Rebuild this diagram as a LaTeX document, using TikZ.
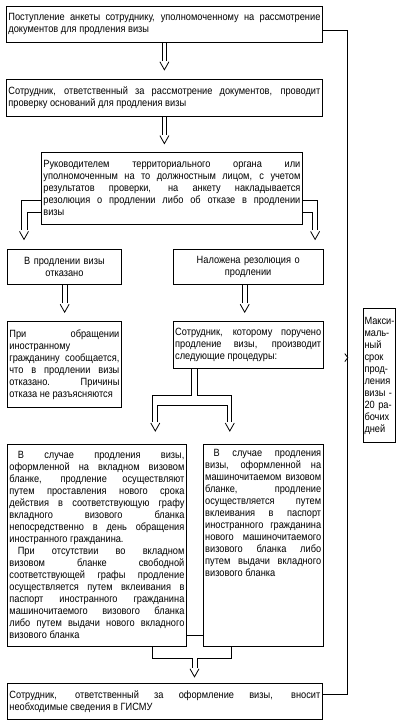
\documentclass[tikz,border=0pt]{standalone}
\usepackage{fontspec}
\setmainfont{Liberation Sans}[FakeStretch=0.88]
\usetikzlibrary{positioning,calc}
\hyphenpenalty=10000
\exhyphenpenalty=10000

\begin{document}
\begin{tikzpicture}[
    font=\fontsize{10.5pt}{12pt}\selectfont,
    box/.style={draw, line width=0.8pt, inner xsep=2pt, inner ysep=2pt, align=justify},
    rail/.style={line width=0.8pt},
    vtip/.pic={\draw[rail] (-4.5pt,0) -- (0,-8pt) -- (4.5pt,0);}
]

% page frame
\useasboundingbox (0,0) rectangle (403pt,-722pt);

% ===== Receipt and check =====
\node[box, anchor=north west, text width=312pt, minimum height=36pt] (receipt) at (6pt,-6pt) {Поступление анкеты сотруднику, уполномоченному на рассмотрение\linebreak документов для продления визы};
\node[box, below=36pt of receipt.south west, anchor=north west, text width=312pt, minimum height=37pt] (check) {Сотрудник, ответственный за рассмотрение документов, проводит\linebreak проверку оснований для продления визы};

% ===== Resolution =====
\node[box, below right=35pt and 35pt of check.south west, text width=257pt, minimum height=72pt] (resolution) {Руководителем территориального органа или\linebreak уполномоченным на то должностным лицом, с учетом\linebreak результатов проверки, на анкету накладывается\linebreak резолюция о продлении либо об отказе в продлении\linebreak визы};

% ===== Two outcomes =====
\node[box, below left=25pt and 34pt of resolution.south west, anchor=north west, text width=110pt, minimum height=35pt, align=center] (refused) {В продлении визы\\отказано};
\node[box, right=51pt of refused.north east, anchor=north west, text width=146pt, minimum height=35pt, align=center] (granted) {Наложена резолюция о\\продлении};

\node[box, below=36pt of refused.south west, anchor=north west, text width=110pt, minimum height=86pt] (notice) {При обращении\linebreak иностранному\linebreak гражданину сообщается,\linebreak что в продлении визы\linebreak отказано. Причины\linebreak отказа не разъясняются};
\node[box, below=36pt of granted.south west, anchor=north west, text width=146pt, minimum height=47pt] (officer) {Сотрудник, которому поручено\linebreak продление визы, производит\linebreak следующие процедуры:};

% ===== Procedures =====
\node[box, below=36pt of notice.south west, anchor=north west, text width=175pt, minimum height=202pt] (inset) {\hspace*{0.8em}В случае продления визы,\linebreak оформленной на вкладном визовом\linebreak бланке, продление осуществляют\linebreak путем проставления нового срока\linebreak действия в соответствующую графу\linebreak вкладного визового бланка\linebreak непосредственно в день обращения\linebreak иностранного гражданина.\\
\hspace*{0.8em}При отсутствии во вкладном\linebreak визовом бланке свободной\linebreak соответствующей графы продление\linebreak осуществляется путем вклеивания в\linebreak паспорт иностранного гражданина\linebreak машиночитаемого визового бланка\linebreak либо путем выдачи нового вкладного\linebreak визового бланка};
\node[box, right=16pt of inset.north east, anchor=north west, text width=116pt, text height=10pt, text depth=188pt] (mrv) {\hspace*{0.8em}В случае продления\linebreak визы, оформленной на\linebreak машиночитаемом~визовом\linebreak бланке, продление\linebreak осуществляется путем\linebreak вклеивания в паспорт\linebreak иностранного~гражданина\linebreak нового~машиночитаемого\linebreak визового бланка либо\linebreak путем выдачи вкладного\linebreak визового бланка};

% ===== Final entry =====
\node[box, below=36pt of inset.south west, anchor=north west, text width=311pt, minimum height=36pt] (gismu) {Сотрудник, ответственный за оформление визы, вносит\linebreak необходимые сведения в ГИСМУ};

% ===== Time limit =====
\node[box, above right=13pt and 39pt of officer.north east, anchor=north west, inner xsep=1.5pt, text width=29pt, minimum height=134pt, align=left] (term) {Макси-\\маль-\\ный\\срок\\прод-\\ления\\визы -\\20 ра-\\бочих\\дней};

% ===== Hollow arrows =====
\draw[rail] ([xshift=-2pt]receipt.south) -- ++(0,-18pt);
\draw[rail] ([xshift=2pt]receipt.south) -- ++(0,-18pt);
\pic at ([yshift=-19pt]receipt.south) {vtip};

\draw[rail] ([xshift=-2pt]check.south) -- ++(0,-18pt);
\draw[rail] ([xshift=2pt]check.south) -- ++(0,-18pt);
\pic at ([yshift=-19pt]check.south) {vtip};

% split to both outcomes
\draw[rail] ([yshift=24pt]resolution.south west) -| ([xshift=14pt,yshift=19pt]refused.north west);
\draw[rail] ([yshift=12pt]resolution.south west) -| ([xshift=20pt,yshift=19pt]refused.north west);
\pic at ([xshift=17pt,yshift=18pt]refused.north west) {vtip};
\draw[rail] ([yshift=24pt]resolution.south east) -| ([xshift=-6pt,yshift=19pt]granted.north east);
\draw[rail] ([yshift=12pt]resolution.south east) -| ([xshift=-11pt,yshift=19pt]granted.north east);
\pic at ([xshift=-8.5pt,yshift=18pt]granted.north east) {vtip};

\draw[rail] ([xshift=-2pt]refused.south) -- ++(0,-18pt);
\draw[rail] ([xshift=2.5pt]refused.south) -- ++(0,-18pt);
\pic at ([xshift=0.25pt,yshift=-19pt]refused.south) {vtip};

\draw[rail] ([xshift=-6pt]granted.south) -- ++(0,-18pt);
\draw[rail] ([xshift=-1pt]granted.south) -- ++(0,-18pt);
\pic at ([xshift=-3.5pt,yshift=-19pt]granted.south) {vtip};

% split to both procedures
\draw[rail] ([xshift=19pt]officer.south west) |- ([xshift=-34pt,yshift=49pt]inset.north east) -- ([xshift=-34pt,yshift=22pt]inset.north east);
\draw[rail] ([xshift=25pt]officer.south west) |- ([xshift=29pt,yshift=49pt]mrv.north west) -- ([xshift=29pt,yshift=22pt]mrv.north west);
\draw[rail] ([xshift=-29pt,yshift=22pt]inset.north east) |- ([xshift=25pt,yshift=39pt]mrv.north west) -- ([xshift=25pt,yshift=22pt]mrv.north west);
\pic at ([xshift=-31.5pt,yshift=21pt]inset.north east) {vtip};
\pic at ([xshift=27pt,yshift=21pt]mrv.north west) {vtip};

% join into final entry
\draw[rail] ([yshift=11pt]inset.south east) -- ([yshift=11pt]mrv.south west);
\draw[rail] ([xshift=-34pt]inset.south east) |- ([xshift=185pt,yshift=24pt]gismu.north west) -- ([xshift=185pt,yshift=15pt]gismu.north west);
\draw[rail] ([xshift=29pt]mrv.south west) |- ([xshift=190pt,yshift=24pt]gismu.north west) -- ([xshift=190pt,yshift=15pt]gismu.north west);
\pic at ([xshift=187.5pt,yshift=14pt]gismu.north west) {vtip};

% ===== Overall span =====
\draw[rail] ([yshift=12pt]receipt.south east) -- ++(25pt,0) coordinate (span) |- ([yshift=-12pt]gismu.north east);
\coordinate (chev) at ($(span |- term.west)+(0,18pt)$);
\draw[rail] ([xshift=-3pt,yshift=4pt]chev) -- (chev) -- ([xshift=-3pt,yshift=-4pt]chev);

\end{tikzpicture}
\end{document}
